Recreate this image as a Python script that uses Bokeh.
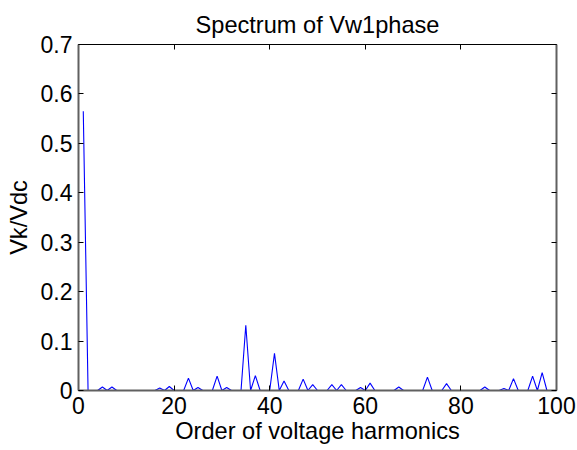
from bokeh.plotting import figure
from bokeh.models import LinearAxis, Range1d, FixedTicker
from bokeh.embed import file_html
from bokeh.resources import INLINE

# ---- data ----
harmonic_order = list(range(1, 100))
vk_vdc = [
    0.565, 0.0, 0.0, 0.0, 0.007, 0.0, 0.007, 0.0, 0.0, 0.0,      # 1-10
    0.0, 0.0, 0.0, 0.0, 0.0, 0.0, 0.005, 0.0, 0.008, 0.0,        # 11-20
    0.0, 0.0, 0.025, 0.0, 0.006, 0.0, 0.0, 0.0, 0.029, 0.0,      # 21-30
    0.006, 0.0, 0.0, 0.0, 0.132, 0.0, 0.030, 0.0, 0.0, 0.0,      # 31-40
    0.075, 0.0, 0.019, 0.0, 0.0, 0.0, 0.023, 0.0, 0.012, 0.0,    # 41-50
    0.0, 0.0, 0.012, 0.0, 0.012, 0.0, 0.0, 0.0, 0.006, 0.0,      # 51-60
    0.015, 0.0, 0.0, 0.0, 0.0, 0.0, 0.007, 0.0, 0.0, 0.0,        # 61-70
    0.0, 0.0, 0.027, 0.0, 0.0, 0.0, 0.014, 0.0, 0.0, 0.0,        # 71-80
    0.0, 0.0, 0.0, 0.0, 0.007, 0.0, 0.0, 0.0, 0.004, 0.0,        # 81-90
    0.024, 0.0, 0.0, 0.0, 0.029, 0.0, 0.036, 0.0, 0.0,           # 91-99
]
x_ticks = [0, 20, 40, 60, 80, 100]
y_ticks = [0, 0.1, 0.2, 0.3, 0.4, 0.5, 0.6, 0.7]
y_tick_labels = ["0", "0.1", "0.2", "0.3", "0.4", "0.5", "0.6", "0.7"]
title_text = "Spectrum of Vw1phase"
x_label = "Order of voltage harmonics"
y_label = "Vk/Vdc"

FONT = "Liberation Sans"

p = figure(width=577, height=450, output_backend="svg", toolbar_location=None,
           x_range=Range1d(x_ticks[0], x_ticks[-1]), y_range=Range1d(y_ticks[0], y_ticks[-1]),
           min_border_left=78, min_border_right=21,
           min_border_top=44, min_border_bottom=60)
p.background_fill_color = "white"
p.border_fill_color = "white"
p.outline_line_color = "black"
p.outline_line_width = 1
p.xgrid.visible = False
p.ygrid.visible = False

p.title.text = title_text
p.title.align = "center"
p.title.text_font = FONT
p.title.text_font_size = "23.6px"
p.title.text_font_style = "normal"
p.title.text_color = "black"
p.title.standoff = 14
p.title.offset = -3

p.line(harmonic_order, vk_vdc, line_color="#0000FF", line_width=1.1)

for ax, ticks in ((p.xaxis[0], x_ticks), (p.yaxis[0], y_ticks)):
    ax.ticker = FixedTicker(ticks=ticks)
    ax.major_tick_in = 5
    ax.major_tick_out = 0
    ax.minor_tick_in = 0
    ax.minor_tick_out = 0
    ax.major_tick_line_color = "black"
    ax.axis_line_color = "#606060"
    ax.axis_line_width = 2
    ax.major_label_text_font = FONT
    ax.major_label_text_font_size = "23px"
    ax.major_label_text_color = "black"
    ax.axis_label_text_font = FONT
    ax.axis_label_text_font_size = "23.6px"
    ax.axis_label_text_font_style = "normal"
    ax.axis_label_text_color = "black"

p.xaxis[0].axis_label = x_label
p.yaxis[0].axis_label = y_label
p.yaxis[0].major_label_overrides = {t: s for t, s in zip(y_ticks, y_tick_labels)}
p.xaxis[0].major_label_standoff = 6
p.xaxis[0].axis_label_standoff = 1
p.yaxis[0].major_label_standoff = 6
p.yaxis[0].axis_label_standoff = 6

top_ax = LinearAxis(ticker=FixedTicker(ticks=x_ticks),
                    major_label_overrides={t: "" for t in x_ticks},
                    major_label_text_font_size="4px",
                    major_tick_in=5, major_tick_out=0, minor_tick_in=0, minor_tick_out=0,
                    major_label_standoff=0, axis_line_color="black", major_tick_line_color="black")
right_ax = LinearAxis(ticker=FixedTicker(ticks=y_ticks),
                      major_label_overrides={t: "" for t in y_ticks},
                      major_label_text_font_size="4px",
                      major_tick_in=5, major_tick_out=0, minor_tick_in=0, minor_tick_out=0,
                      major_label_standoff=0, axis_line_color="#606060", axis_line_width=2,
                      major_tick_line_color="black")
p.add_layout(top_ax, "above")
p.add_layout(right_ax, "right")

open("out.html", "w").write(file_html(p, INLINE))
